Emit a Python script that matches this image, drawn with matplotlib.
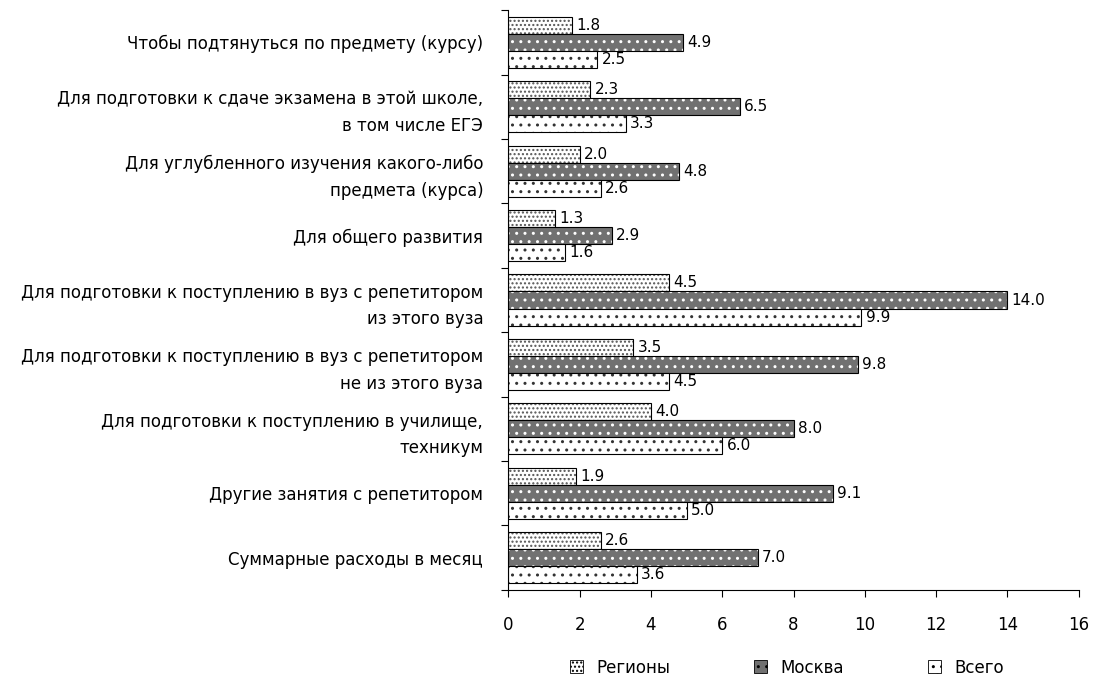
import matplotlib.pyplot as plt
import numpy as np

plt.rcParams['font.family'] = ['DejaVu Sans']
plt.rcParams['hatch.linewidth'] = 1.0

categories = [
    "Чтобы подтянуться по предмету (курсу)",
    "Для подготовки к сдаче экзамена в этой школе,\nв том числе ЕГЭ",
    "Для углубленного изучения какого-либо\nпредмета (курса)",
    "Для общего развития",
    "Для подготовки к поступлению в вуз с репетитором\nиз этого вуза",
    "Для подготовки к поступлению в вуз с репетитором\nне из этого вуза",
    "Для подготовки к поступлению в училище,\nтехникум",
    "Другие занятия с репетитором",
    "Суммарные расходы в месяц",
]
regions = [1.8, 2.3, 2.0, 1.3, 4.5, 3.5, 4.0, 1.9, 2.6]
moscow = [4.9, 6.5, 4.8, 2.9, 14.0, 9.8, 8.0, 9.1, 7.0]
total = [2.5, 3.3, 2.6, 1.6, 9.9, 4.5, 6.0, 5.0, 3.6]
series_names = ["Регионы", "Москва", "Всего"]

fig = plt.figure(figsize=(10.93, 6.78), dpi=100)
ax = fig.add_axes([0.465, 0.13, 0.522, 0.855])

n = len(categories)
centers = n - 1 - np.arange(n) + 0.5
h = 0.265
offsets = [h, 0, -h]
styles = [
    dict(face='white', hatch='....', hcol='#555555'),
    dict(face='#717171', hatch='..', hcol='white'),
    dict(face='white', hatch='..', hcol='#333333'),
]
handles = []
for vals, off, st, name in zip([regions, moscow, total], offsets, styles, series_names):
    y = centers + off
    ax.barh(y, vals, height=h, color=st['face'], hatch=st['hatch'],
            edgecolor=st['hcol'], linewidth=0)
    ax.barh(y, vals, height=h, fill=False, edgecolor='black', linewidth=0.8)
    for yy, v in zip(y, vals):
        ax.text(v + 0.12, yy, f"{v:.1f}", va='center', ha='left', fontsize=11)
    handles.append(plt.Rectangle((0, 0), 1, 1, facecolor=st['face'], hatch=st['hatch'],
                                 edgecolor='black', linewidth=0.6))

ax.set_xlim(0, 16)
ax.set_ylim(0, n)
ax.set_xticks(range(0, 17, 2))
ax.set_yticks(np.arange(n + 1))
ax.set_yticklabels([])
ax.set_yticks(centers, minor=True)
ax.set_yticklabels(categories, minor=True, fontsize=12, ha='right', linespacing=1.6)
ax.tick_params(axis='y', which='minor', length=0, pad=18)
ax.tick_params(axis='y', which='major', length=5, direction='out')
ax.tick_params(axis='x', length=5, direction='out', labelsize=12, pad=14)
for s in ['top', 'right']:
    ax.spines[s].set_visible(False)

fig.legend(handles, series_names, loc='lower center', bbox_to_anchor=(0.72, -0.02),
           ncol=3, frameon=False, fontsize=12, handlelength=0.8, handleheight=0.8,
           columnspacing=5)

fig.savefig('out.png', dpi=100)
